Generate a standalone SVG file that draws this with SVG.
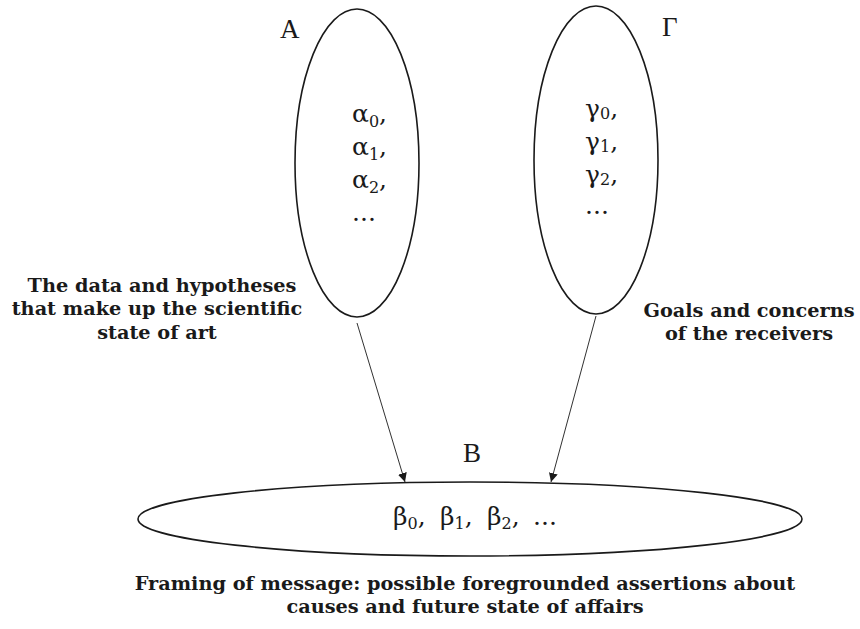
<svg xmlns="http://www.w3.org/2000/svg" width="860" height="629" viewBox="0 0 860 629">
<style>
.node{fill:none;stroke:#1a1a1a;stroke-width:1.6}
.sym{font-family:"DejaVu Serif","Liberation Serif",serif;font-size:25px;fill:#1a1a1a}
.lbl{font-family:"Liberation Serif","DejaVu Serif",serif;font-size:27px;fill:#1a1a1a}
.cap{font-family:"DejaVu Serif","Liberation Serif",serif;font-weight:bold;font-size:19.3px;fill:#1a1a1a;text-anchor:middle}
.sub{font-size:16px}
.conn{stroke:#1a1a1a;stroke-width:0.9;fill:none}
</style>
<defs>
<marker id="ah" viewBox="0 0 10 10" refX="10" refY="5" markerWidth="9" markerHeight="9" markerUnits="userSpaceOnUse" orient="auto">
<path d="M0,0 L10,5 L0,10 z" fill="#1a1a1a"/>
</marker>
</defs>
<rect width="860" height="629" fill="#fff"/>
<g id="node-A">
<ellipse class="node" cx="357" cy="163" rx="62" ry="154"/>
<text class="lbl" x="280" y="38">A</text>
<text class="sym" x="352" y="122">α<tspan class="sub" dy="5">0</tspan><tspan dy="-5">,</tspan></text>
<text class="sym" x="352" y="155">α<tspan class="sub" dy="5">1</tspan><tspan dy="-5">,</tspan></text>
<text class="sym" x="352" y="188">α<tspan class="sub" dy="5">2</tspan><tspan dy="-5">,</tspan></text>
<text class="sym" x="352" y="221">...</text>
</g>
<g id="node-G">
<ellipse class="node" cx="596" cy="160" rx="62" ry="154"/>
<text class="lbl" x="662" y="36">Γ</text>
<text class="sym" x="585" y="117">γ<tspan class="sub" dy="2">0</tspan><tspan dy="-2">,</tspan></text>
<text class="sym" x="585" y="150">γ<tspan class="sub" dy="2">1</tspan><tspan dy="-2">,</tspan></text>
<text class="sym" x="585" y="183">γ<tspan class="sub" dy="2">2</tspan><tspan dy="-2">,</tspan></text>
<text class="sym" x="585" y="214">...</text>
</g>
<g id="node-B">
<ellipse class="node" cx="470" cy="519" rx="332" ry="37"/>
<text class="lbl" x="463" y="462">B</text>
<text class="sym" x="393" y="525">β<tspan class="sub" dy="4">0</tspan><tspan dy="-4">,</tspan></text>
<text class="sym" x="440" y="525">β<tspan class="sub" dy="4">1</tspan><tspan dy="-4">,</tspan></text>
<text class="sym" x="487" y="525">β<tspan class="sub" dy="4">2</tspan><tspan dy="-4">,</tspan></text>
<text class="sym" x="533" y="525">...</text>
</g>
<g id="caption-A">
<text class="cap" x="162" y="292">The data and hypotheses</text>
<text class="cap" x="157" y="315">that make up the scientific</text>
<text class="cap" x="157" y="339">state of art</text>
</g>
<g id="caption-G">
<text class="cap" x="749" y="317">Goals and concerns</text>
<text class="cap" x="749" y="340">of the receivers</text>
</g>
<g id="caption-B">
<text class="cap" x="465" y="590">Framing of message: possible foregrounded assertions about</text>
<text class="cap" x="465" y="613">causes and future state of affairs</text>
</g>
<g id="connectors">
<line class="conn" x1="357" y1="323" x2="405" y2="482" marker-end="url(#ah)"/>
<line class="conn" x1="596" y1="316" x2="551" y2="482" marker-end="url(#ah)"/>
</g>
</svg>
